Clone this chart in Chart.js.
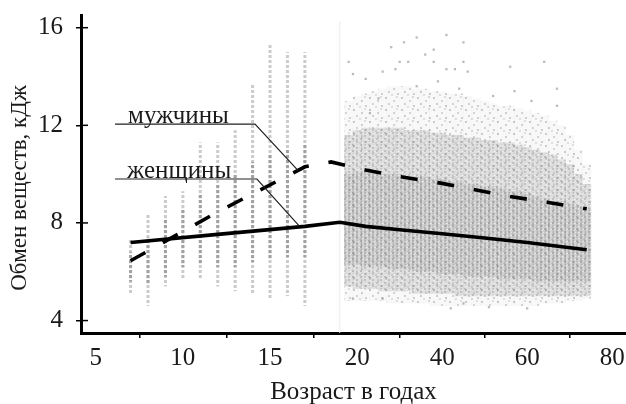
<!DOCTYPE html>
<html>
<head>
<meta charset="utf-8">
<script src="https://cdn.jsdelivr.net/npm/chart.js@4.4.0/dist/chart.umd.min.js"></script>
<style>
  html, body { margin: 0; padding: 0; background: #fff; }
  #c { display: block; }
</style>
</head>
<body>
<canvas id="c" width="626" height="404"></canvas>
<script>
// children, 7..17 years (left, stretched part of the age axis)
var childAges     = [7, 8, 9, 10, 11, 12, 13, 14, 15, 16, 17];
var childLow      = [5.1, 4.6, 5.4, 5.7, 5.7, 5.4, 5.2, 5.1, 4.85, 5.0, 4.6];
var childHigh     = [7.3, 8.4, 9.1, 9.3, 11.3, 11.3, 11.8, 13.7, 15.3, 15.0, 15.0];
var childCoreLow  = [5.6, 5.5, 5.8, 6.2, 6.3, 6.2, 6.2, 6.4, 6.5, 6.6, 6.6];
var childCoreHigh = [6.8, 7.4, 8.2, 8.6, 9.2, 9.6, 10.0, 10.5, 10.8, 11.0, 11.2];

// adults, 18..74 years (right, compressed part of the age axis)
var adultAges     = [18, 20, 22, 24, 26, 28, 30, 32, 34, 36, 38, 40, 42, 44, 46, 48, 50, 52, 54, 56, 58, 60, 62, 64, 66, 68, 70, 72, 74];
var adultSparseHi = [13.0, 13.2, 13.3, 13.4, 13.5, 13.6, 13.6, 13.6, 13.5, 13.5, 13.4, 13.4, 13.3, 13.3, 13.2, 13.1, 13.0, 12.9, 12.8, 12.8, 12.7, 12.6, 12.5, 12.4, 12.2, 12.0, 11.6, 11.0, 10.4];
var adultDenseHi  = [11.6, 11.8, 11.9, 11.9, 11.9, 11.9, 11.9, 11.8, 11.8, 11.8, 11.7, 11.7, 11.6, 11.6, 11.5, 11.5, 11.4, 11.4, 11.3, 11.3, 11.2, 11.1, 11.0, 10.9, 10.8, 10.6, 10.4, 10.0, 9.6];
var adultCoreHi   = [10.0, 10.1, 10.1, 10.1, 10.0, 10.0, 10.0, 9.9, 9.9, 9.9, 9.8, 9.8, 9.7, 9.7, 9.6, 9.6, 9.5, 9.5, 9.4, 9.3, 9.3, 9.2, 9.1, 9.0, 8.9, 8.9, 8.8, 8.7, 8.6];
var adultCoreLo   = [6.3, 6.3, 6.2, 6.2, 6.2, 6.1, 6.1, 6.1, 6.0, 6.0, 6.0, 5.9, 5.9, 5.9, 5.8, 5.8, 5.8, 5.8, 5.7, 5.7, 5.7, 5.7, 5.6, 5.6, 5.6, 5.6, 5.6, 5.6, 5.6];
var adultDenseLo  = [5.4, 5.3, 5.3, 5.3, 5.2, 5.2, 5.2, 5.2, 5.1, 5.1, 5.1, 5.1, 5.1, 5.0, 5.0, 5.0, 5.0, 5.0, 5.0, 5.0, 5.0, 5.0, 5.0, 5.0, 5.0, 5.0, 5.0, 5.0, 5.0];
var adultSparseLo = [4.8, 4.8, 4.8, 4.8, 4.8, 4.7, 4.7, 4.7, 4.7, 4.7, 4.6, 4.6, 4.6, 4.6, 4.6, 4.6, 4.6, 4.6, 4.6, 4.6, 4.6, 4.6, 4.6, 4.7, 4.7, 4.7, 4.8, 4.8, 4.9];

// single scattered adults away from the cloud
var strayAges   = [18, 19, 28, 31, 34, 41, 45, 30, 32, 36, 38, 41, 43, 46, 45, 56, 64, 26, 22, 29, 38, 44, 52, 57, 67, 67, 61, 23, 25, 34, 39, 42, 45, 51, 60, 19, 26];
var strayValues = [14.6, 14.1, 15.2, 15.4, 15.6, 15.7, 15.4, 14.6, 14.6, 14.9, 15.1, 14.3, 14.3, 14.2, 14.6, 14.4, 14.6, 14.2, 13.9, 14.3, 14.6, 13.5, 13.2, 13.4, 13.5, 12.8, 13.0, 12.5, 13.1, 13.6, 13.8, 4.5, 4.7, 4.55, 4.5, 4.9, 4.9];

// fitted lines
var womenAgesLeft  = [7, 12, 17, 19];
var womenLeft      = [7.2, 7.53, 7.86, 8.03];
var womenAgesRight = [22, 30, 40, 50, 60, 74];
var womenRight     = [7.86, 7.72, 7.56, 7.38, 7.2, 6.9];
var menAgesLeft    = [7, 12, 17, 18.5];
var menLeft        = [6.45, 8.45, 10.3, 10.5];
var menAgesRight   = [22, 30, 40, 48, 56, 65, 74];
var menRight       = [10.17, 9.9, 9.62, 9.35, 9.08, 8.84, 8.58];

var xTickAges = [5, 10, 15, 20, 40, 60, 80];
var yTicks = [4, 8, 12, 16];

// broken axis: after 20 years one year takes 0.2438 of a child year
var RIGHT_RATIO = 0.2438;
function leftPos(a) { return a; }
function rightPos(a) { return 20 + (a - 20) * RIGHT_RATIO; }
function tickPos(a) { return a <= 20 ? leftPos(a) : rightPos(a); }

var FONT = 'Liberation Serif';
var INK = '#1a1a1a';

// small fixed tiles to give the point clouds a dotted look
function tile(w, h, bg, rects) {
    var c = document.createElement('canvas');
    c.width = w; c.height = h;
    var g = c.getContext('2d');
    if (bg) { g.fillStyle = bg; g.fillRect(0, 0, w, h); }
    rects.forEach(function (r) {
        g.clearRect(r[0], r[1], r[2], r[3]);
        g.fillStyle = r[4];
        g.fillRect(r[0], r[1], r[2], r[3]);
    });
    return g.createPattern(c, 'repeat');
}
var ctx = document.getElementById('c').getContext('2d');
var childDots = tile(3, 5, null, [[0, 0, 3, 3, 'rgba(130,130,130,0.42)']]);
var childCoreDots = tile(3, 5, null, [[0, 0, 3, 3, 'rgba(110,110,110,0.5)'], [0, 3, 3, 1, 'rgba(150,150,150,0.15)']]);
var sparseDots = tile(16, 12, 'rgba(200,200,200,0.12)', [
    [1, 1, 2, 2, 'rgba(140,140,140,0.45)'], [9, 4, 2, 2, 'rgba(150,150,150,0.4)'],
    [4, 7, 2, 2, 'rgba(140,140,140,0.4)'], [13, 9, 2, 2, 'rgba(150,150,150,0.45)'],
    [7, 10, 2, 2, 'rgba(160,160,160,0.35)'], [12, 0, 2, 2, 'rgba(160,160,160,0.35)']
]);
var denseDots = tile(8, 6, 'rgba(165,165,165,0.3)', [
    [0, 0, 2, 2, 'rgba(120,120,120,0.45)'], [4, 3, 2, 2, 'rgba(120,120,120,0.45)'],
    [6, 1, 1, 1, 'rgba(255,255,255,0.4)'], [2, 4, 1, 1, 'rgba(255,255,255,0.4)'],
    [1, 3, 2, 1, 'rgba(140,140,140,0.4)'], [5, 0, 2, 1, 'rgba(140,140,140,0.35)']
]);
var coreStripes = tile(4, 3, 'rgba(140,140,140,0.18)', [
    [0, 0, 2, 3, 'rgba(120,120,120,0.32)'], [3, 1, 1, 1, 'rgba(255,255,255,0.2)']
]);

function bars(ages, lo, hi, pos, color, width) {
    return {
        type: 'bar',
        order: 5,
        data: ages.map(function (a, i) { return {x: pos(a), y: [lo[i], hi[i]]}; }),
        backgroundColor: color,
        borderWidth: 0,
        barThickness: width,
        grouped: false,
        inflateAmount: 0
    };
}

function line(agesL, valsL, agesR, valsR, dash) {
    var pts = agesL.map(function (a, i) { return {x: leftPos(a), y: valsL[i]}; })
        .concat(agesR.map(function (a, i) { return {x: rightPos(a), y: valsR[i]}; }));
    return {
        type: 'line',
        order: 0,
        data: pts,
        borderColor: '#000',
        borderWidth: 3.6,
        borderDash: dash,
        borderCapStyle: 'butt',
        pointRadius: 0,
        tension: 0,
        fill: false
    };
}

var callouts = [
    {text: 'мужчины', level: 12.05, from: 6.11, to: 14.14, textX: 6.86, tipX: 16.6, tipY: 10.15},
    {text: 'женщины', level: 9.8, from: 6.11, to: 14.25, textX: 6.8, tipX: 16.67, tipY: 7.88}
];

var overlay = {
    id: 'overlay',
    beforeDatasetsDraw: function (chart) {
        var c = chart.ctx, x = chart.scales.x, a = chart.chartArea;
        var px = x.getPixelForValue(19.0);
        c.save();
        c.strokeStyle = '#ececec';
        c.lineWidth = 1;
        c.beginPath();
        c.moveTo(px, a.top + 6);
        c.lineTo(px, a.bottom);
        c.stroke();
        c.restore();
    },
    afterDraw: function (chart) {
        var c = chart.ctx, x = chart.scales.x, y = chart.scales.y, a = chart.chartArea;
        c.save();
        // y ticks cross the axis
        c.strokeStyle = '#000';
        c.lineWidth = 1.5;
        yTicks.forEach(function (v) {
            var py = y.getPixelForValue(v);
            c.beginPath();
            c.moveTo(a.left, py);
            c.lineTo(a.left + 7, py);
            c.stroke();
        });
        // callouts
        c.font = '25px "' + FONT + '"';
        c.fillStyle = INK;
        c.textBaseline = 'alphabetic';
        c.lineWidth = 1.2;
        c.strokeStyle = '#222';
        callouts.forEach(function (o) {
            var ly = y.getPixelForValue(o.level);
            c.fillText(o.text, x.getPixelForValue(o.textX), ly - 1);
            c.beginPath();
            c.moveTo(x.getPixelForValue(o.from), ly);
            c.lineTo(x.getPixelForValue(o.to), ly);
            c.lineTo(x.getPixelForValue(o.tipX), y.getPixelForValue(o.tipY));
            c.stroke();
        });
        // y title
        c.font = '23px "' + FONT + '"';
        c.translate(20, 188);
        c.rotate(-Math.PI / 2);
        c.textAlign = 'center';
        c.textBaseline = 'middle';
        c.fillText('Обмен веществ, кДж', 0, 0);
        c.restore();
    }
};

var strayPoints = strayAges.map(function (a, i) { return {x: rightPos(a), y: strayValues[i]}; });

new Chart(ctx, {
    type: 'bar',
    data: {
        datasets: [
            bars(childAges, childLow, childHigh, leftPos, childDots, 3),
            bars(childAges, childCoreLow, childCoreHigh, leftPos, childCoreDots, 3),
            bars(adultAges, adultSparseLo, adultSparseHi, rightPos, sparseDots, 9),
            bars(adultAges, adultDenseLo, adultDenseHi, rightPos, denseDots, 9),
            bars(adultAges, adultCoreLo, adultCoreHi, rightPos, coreStripes, 9),
            {
                type: 'line',
                order: 3,
                data: strayPoints,
                showLine: false,
                pointStyle: 'rect',
                pointRadius: 1.6,
                pointBorderWidth: 0,
                pointBackgroundColor: 'rgba(140,140,140,0.6)'
            },
            line(womenAgesLeft, womenLeft, womenAgesRight, womenRight, []),
            line(menAgesLeft, menLeft, menAgesRight, menRight, [17, 20])
        ]
    },
    options: {
        responsive: false,
        animation: false,
        events: [],
        layout: {autoPadding: false, padding: {top: 15, right: 0, bottom: 0, left: 0}},
        plugins: {legend: {display: false}, tooltip: {enabled: false}},
        scales: {
            x: {
                type: 'linear',
                min: 4.157,
                max: 35.42,
                offset: false,
                afterBuildTicks: function (s) {
                    s.ticks = xTickAges.map(function (a) { return {value: tickPos(a)}; });
                },
                afterFit: function (s) {
                    s.height = 71;
                    s.paddingLeft = 0;
                    s.paddingRight = 0;
                },
                ticks: {
                    autoSkip: false,
                    maxRotation: 0,
                    padding: 8,
                    color: INK,
                    font: {family: FONT, size: 25, lineHeight: 1},
                    callback: function (v, i) { return xTickAges[i]; }
                },
                grid: {drawOnChartArea: false, drawTicks: true, tickLength: 5, color: '#000', lineWidth: 1.5},
                border: {display: true, color: '#000', width: 3},
                title: {
                    display: true,
                    text: 'Возраст в годах',
                    color: INK,
                    font: {family: FONT, size: 25, lineHeight: 0.9},
                    padding: {top: 0, bottom: 0}
                }
            },
            y: {
                min: 3.49,
                max: 16.52,
                afterBuildTicks: function (s) {
                    s.ticks = yTicks.map(function (v) { return {value: v}; });
                },
                afterFit: function (s) {
                    s.width = 81;
                    s.paddingTop = 0;
                    s.paddingBottom = 0;
                },
                ticks: {
                    padding: 13,
                    color: INK,
                    font: {family: FONT, size: 25, lineHeight: 1}
                },
                grid: {drawOnChartArea: false, drawTicks: true, tickLength: 5, color: '#000', lineWidth: 1.5},
                border: {display: true, color: '#000', width: 3}
            }
        }
    },
    plugins: [overlay]
});
</script>
</body>
</html>
